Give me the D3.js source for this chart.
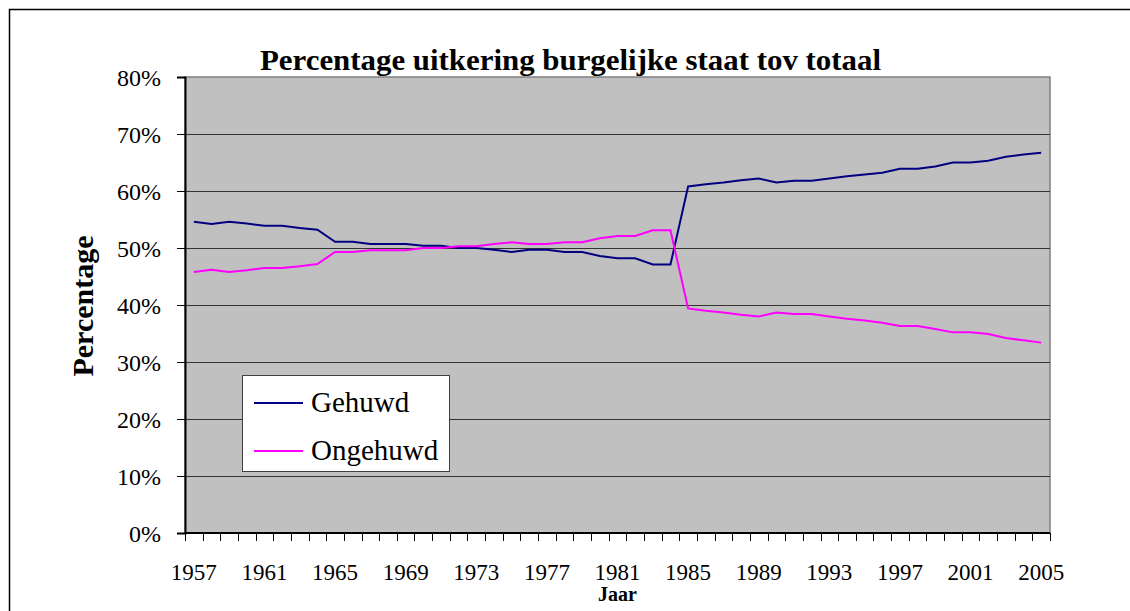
<!DOCTYPE html>
<html>
<head>
<meta charset="utf-8">
<script src="https://cdn.jsdelivr.net/npm/d3@7"></script>
<style>
    html, body { margin: 0; padding: 0; background: #fff; }
    svg { display: block; }
    text { font-family: "Liberation Serif", "Times New Roman", serif; fill: #000; }
</style>
</head>
<body>
<svg id="chart"></svg>
<script>
// values (percent)
const years = d3.range(1957, 2006);
const gehuwd = [
    54.6, 54.2, 54.6, 54.3, 53.9, 53.9, 53.5, 53.2, 51.1, 51.1,
    50.7, 50.7, 50.7, 50.4, 50.4, 50.0, 50.0, 49.7, 49.3, 49.7,
    49.7, 49.3, 49.3, 48.6, 48.2, 48.2, 47.1, 47.1, 60.8, 61.2,
    61.5, 61.9, 62.2, 61.5, 61.8, 61.8, 62.2, 62.6, 62.9, 63.2,
    63.9, 63.9, 64.3, 65.0, 65.0, 65.3, 66.0, 66.4, 66.7
];
const ongehuwd = [
    45.8, 46.2, 45.8, 46.1, 46.5, 46.5, 46.8, 47.2, 49.3, 49.3,
    49.6, 49.6, 49.6, 50.0, 50.0, 50.3, 50.3, 50.7, 51.0, 50.7,
    50.7, 51.0, 51.0, 51.7, 52.1, 52.1, 53.1, 53.1, 39.4, 39.0,
    38.7, 38.3, 38.0, 38.7, 38.4, 38.4, 38.0, 37.6, 37.3, 36.9,
    36.3, 36.3, 35.8, 35.2, 35.2, 34.9, 34.2, 33.8, 33.4
];
const yTicks = [0, 10, 20, 30, 40, 50, 60, 70, 80];
const xLabelYears = [1957, 1961, 1965, 1969, 1973, 1977, 1981, 1985, 1989, 1993, 1997, 2001, 2005];

const W = 1130, H = 611;
const plot = {left: 185, right: 1050, top: 77, bottom: 533};

const svg = d3.select('#chart')
    .attr('width', W)
    .attr('height', H);

// outer chart border (runs off the right and bottom of the picture)
svg.append('rect')
    .attr('x', 9.5).attr('y', 9.5)
    .attr('width', 1400).attr('height', 900)
    .attr('fill', '#fff')
    .attr('stroke', '#000')
    .attr('stroke-width', 1.5);

const x = d3.scaleBand()
    .domain(years)
    .range([plot.left, plot.right]);
const y = d3.scaleLinear()
    .domain([0, 80])
    .range([plot.bottom, plot.top]);

// plot background
svg.append('rect')
    .attr('x', plot.left).attr('y', plot.top)
    .attr('width', plot.right - plot.left)
    .attr('height', plot.bottom - plot.top)
    .attr('fill', '#c0c0c0')
    .attr('stroke', '#808080')
    .attr('stroke-width', 1.5);

// gridlines
svg.append('g')
    .selectAll('line')
    .data(yTicks.filter(d => d > 0 && d < 80))
    .join('line')
    .attr('x1', plot.left).attr('x2', plot.right)
    .attr('y1', d => Math.round(y(d)) + 0.5)
    .attr('y2', d => Math.round(y(d)) + 0.5)
    .attr('stroke', '#333')
    .attr('stroke-width', 1);

// y axis
const yAxis = d3.axisLeft(y)
    .tickValues(yTicks)
    .tickSize(8)
    .tickPadding(16)
    .tickFormat(d => d + '%');
const gY = svg.append('g')
    .attr('transform', 'translate(' + plot.left + ',0)')
    .call(yAxis);
gY.select('.domain').attr('stroke', '#000').attr('stroke-width', 2);
gY.selectAll('.tick line').attr('stroke', '#000');
gY.selectAll('.tick text')
    .attr('font-size', 24)
    .attr('font-family', '"Liberation Serif", serif')
    .attr('dy', '0.36em');

// x axis: ticks sit between the years, labels every 4 years
const gX = svg.append('g')
    .attr('transform', 'translate(0,' + plot.bottom + ')');
gX.append('line')
    .attr('x1', plot.left).attr('x2', plot.right)
    .attr('y1', 0).attr('y2', 0)
    .attr('stroke', '#000')
    .attr('stroke-width', 2);
gX.selectAll('line.tick')
    .data(years.concat([2006]))
    .join('line')
    .attr('class', 'tick')
    .attr('x1', d => Math.round(d === 2006 ? plot.right : x(d)) + 0.5)
    .attr('x2', d => Math.round(d === 2006 ? plot.right : x(d)) + 0.5)
    .attr('y1', 0).attr('y2', 8)
    .attr('stroke', '#000');
gX.selectAll('text')
    .data(xLabelYears)
    .join('text')
    .attr('x', d => x(d) + x.bandwidth() / 2)
    .attr('y', 47)
    .attr('text-anchor', 'middle')
    .attr('font-size', 23)
    .text(d => d);

// lines
const line = d3.line()
    .x((d, i) => x(years[i]) + x.bandwidth() / 2)
    .y(d => y(d));

svg.append('path')
    .datum(gehuwd)
    .attr('fill', 'none')
    .attr('stroke', '#000080')
    .attr('stroke-width', 2)
    .attr('d', line);
svg.append('path')
    .datum(ongehuwd)
    .attr('fill', 'none')
    .attr('stroke', '#ff00ff')
    .attr('stroke-width', 2)
    .attr('d', line);

// titles
svg.append('text')
    .attr('x', 260).attr('y', 70)
    .attr('font-size', 30)
    .attr('font-weight', 'bold')
    .attr('textLength', 621)
    .attr('lengthAdjust', 'spacingAndGlyphs')
    .text('Percentage uitkering burgelijke staat tov totaal');

svg.append('text')
    .attr('transform', 'translate(93,306) rotate(-90)')
    .attr('text-anchor', 'middle')
    .attr('font-size', 30)
    .attr('font-weight', 'bold')
    .text('Percentage');

svg.append('text')
    .attr('x', (plot.left + plot.right) / 2)
    .attr('y', 601)
    .attr('text-anchor', 'middle')
    .attr('font-size', 20)
    .attr('font-weight', 'bold')
    .text('Jaar');

// legend
const legend = svg.append('g');
legend.append('rect')
    .attr('x', 242.5).attr('y', 375.5)
    .attr('width', 207).attr('height', 96)
    .attr('fill', '#fff')
    .attr('stroke', '#404040')
    .attr('stroke-width', 1);
const items = [
    {name: 'Gehuwd', color: '#000080', ly: 403},
    {name: 'Ongehuwd', color: '#ff00ff', ly: 451}
];
items.forEach(it => {
    legend.append('line')
        .attr('x1', 254).attr('x2', 303)
        .attr('y1', it.ly).attr('y2', it.ly)
        .attr('stroke', it.color)
        .attr('stroke-width', 2);
    legend.append('text')
        .attr('x', 311)
        .attr('y', it.ly + 9)
        .attr('font-size', 29)
        .text(it.name);
});
</script>
</body>
</html>
